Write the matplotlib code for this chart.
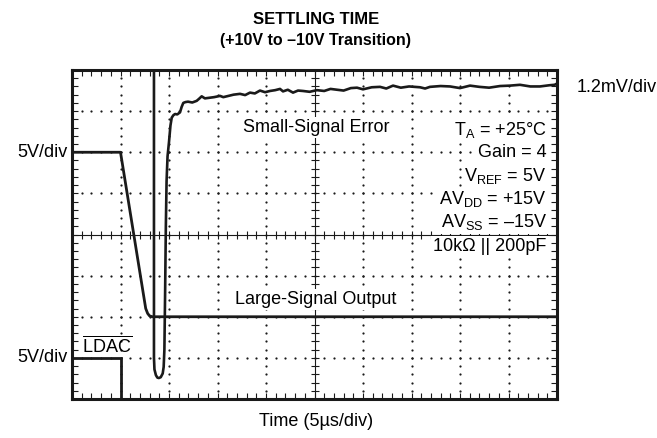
import numpy as np
import matplotlib
matplotlib.use("Agg")
import matplotlib.pyplot as plt
from matplotlib.ticker import MultipleLocator

plt.rcParams['font.family'] = ['Liberation Sans', 'DejaVu Sans']
plt.rcParams['mathtext.fontset'] = 'custom'
plt.rcParams['mathtext.rm'] = 'Liberation Sans'
plt.rcParams['mathtext.it'] = 'Liberation Sans:italic'
plt.rcParams['mathtext.bf'] = 'Liberation Sans:bold'

# scope traces, in divisions (x: 5us/div, y counted up from the bottom graticule)
ldac_x = [0.0, 1.0, 1.0, 10.0]
ldac_y = [1.0, 1.0, 0.0, 0.0]

large_x = [0.0, 1.0, 1.52, 1.56, 1.60, 1.66, 10.0]
large_y = [6.0, 6.0, 2.2, 2.08, 2.02, 2.0, 2.0]

err_x = [1.69, 1.69, 1.70, 1.73, 1.76, 1.79, 1.83, 1.87, 1.89, 1.905, 1.92,
         1.935, 1.95, 1.97, 2.00, 2.03, 2.056, 2.09, 2.124, 2.17, 2.227, 2.26,
         2.295, 2.34, 2.392, 2.48, 2.571, 2.62, 2.674, 2.74, 2.804, 2.93,
         3.052, 3.12, 3.19, 3.33, 3.464, 3.57, 3.67, 3.77, 3.876, 3.98, 4.082,
         4.19, 4.289, 4.351, 4.45, 4.557, 4.66, 4.763, 4.9, 5.05, 5.2, 5.33,
         5.464, 5.6, 5.75, 5.876, 6.0, 6.18, 6.351, 6.48, 6.619, 6.78, 6.95,
         7.175, 7.28, 7.381, 7.6, 7.794, 8.0, 8.206, 8.4, 8.6, 8.825, 9.03,
         9.237, 9.45, 9.649, 9.85, 9.95, 10.0]
err_y = [8.3, 1.0, 0.72, 0.58, 0.52, 0.51, 0.53, 0.62, 0.78, 1.2, 2.6,
         4.2, 5.3, 5.9, 6.25, 6.65, 6.84, 6.90, 6.93, 6.92, 6.97, 7.10,
         7.20, 7.22, 7.23, 7.21, 7.25, 7.30, 7.36, 7.31, 7.32, 7.34,
         7.37, 7.34, 7.36, 7.40, 7.42, 7.39, 7.45, 7.43, 7.50, 7.46, 7.49,
         7.51, 7.54, 7.48, 7.52, 7.45, 7.50, 7.49, 7.47, 7.51, 7.49, 7.54,
         7.52, 7.50, 7.56, 7.57, 7.53, 7.58, 7.59, 7.55, 7.62, 7.57, 7.60,
         7.58, 7.55, 7.59, 7.61, 7.60, 7.56, 7.62, 7.59, 7.57, 7.61, 7.62,
         7.64, 7.60, 7.60, 7.63, 7.64, 7.67]

conditions = [r'T$_\mathrm{A}$ = +25°C', 'Gain = 4', r'V$_\mathrm{REF}$ = 5V',
              r'AV$_\mathrm{DD}$ = +15V', r'AV$_\mathrm{SS}$ = –15V',
              '10kΩ || 200pF']
cond_y = [6.55, 6.0, 5.43, 4.87, 4.3, 3.7]

fig = plt.figure(figsize=(6.57, 4.38), dpi=100)
ax = fig.add_axes([72 / 657, 39 / 438, 485 / 657, 329 / 438])
ax.set_xlim(0, 10)
ax.set_ylim(0, 8)

ink = '#1a1a1a'

# dotted graticule
minor = np.arange(0, 10.001, 0.2)
minor_v = np.arange(0, 8.001, 0.2)
for gx in range(1, 10):
    if gx == 5:
        continue
    ax.plot(np.full_like(minor_v, gx), minor_v, ls='none', marker='o',
            ms=1.6, color=ink, mew=0, zorder=1)
for gy in range(1, 8):
    if gy == 4:
        continue
    ax.plot(minor, np.full_like(minor, gy), ls='none', marker='o',
            ms=1.6, color=ink, mew=0, zorder=1)

# centre crosshair with tick marks
ax.axvline(5, color=ink, lw=0.8, zorder=1)
ax.axhline(4, color=ink, lw=0.8, zorder=1)
ax.plot(minor, np.full_like(minor, 4), ls='none', marker='|', ms=6,
        mew=0.8, color=ink, zorder=1)
ax.plot(np.full_like(minor_v, 5), minor_v, ls='none', marker='_', ms=6,
        mew=0.8, color=ink, zorder=1)

# traces
ax.plot(ldac_x, ldac_y, color=ink, lw=2.0, solid_joinstyle='miter', zorder=4)
ax.plot(large_x, large_y, color=ink, lw=2.0, zorder=4)
ax.plot(err_x, err_y, color=ink, lw=1.9, zorder=4)

# frame ticks
ax.xaxis.set_minor_locator(MultipleLocator(0.2))
ax.yaxis.set_minor_locator(MultipleLocator(0.2))
ax.xaxis.set_major_locator(MultipleLocator(1))
ax.yaxis.set_major_locator(MultipleLocator(1))
ax.tick_params(which='both', direction='in', top=True, right=True,
               labelbottom=False, labelleft=False, color=ink)
ax.tick_params(which='both', length=4, width=0.8)
for sp in ax.spines.values():
    sp.set_linewidth(2.2)
    sp.set_color(ink)
    sp.set_zorder(5)

fs = 13
box = dict(facecolor='white', edgecolor='none', pad=1.5)
# labels inside the graticule
ax.text(5.03, 6.6, 'Small-Signal Error', ha='center', va='center',
        fontsize=fs, bbox=box, zorder=3)
ax.text(5.03, 2.42, 'Large-Signal Output', ha='center', va='center',
        fontsize=fs, bbox=box, zorder=3)
ax.text(0.2, 1.3, r'$\overline{\mathrm{LDAC}}$', ha='left', va='center',
        fontsize=fs, zorder=3)
for s, yy in zip(conditions, cond_y):
    ax.text(9.79, yy, s, ha='right', va='center', fontsize=fs, bbox=box,
            zorder=3)

# scale labels outside the frame
ax.text(-0.1, 6.0, '5V/div', ha='right', va='center', fontsize=fs)
ax.text(-0.1, 1.0, '5V/div', ha='right', va='center', fontsize=fs)
ax.text(10.41, 7.57, '1.2mV/div', ha='left', va='center', fontsize=fs)

fig.text(316 / 657, 1 - 20 / 438, 'SETTLING TIME', ha='center', va='center',
         fontsize=12, fontweight='bold')
fig.text(316 / 657, 1 - 41 / 438, '(+10V to –10V Transition)', ha='center',
         va='center', fontsize=11.5, fontweight='bold')
fig.text(316 / 657, 1 - 421 / 438, 'Time (5µs/div)', ha='center',
         va='center', fontsize=fs)

fig.savefig('out.png', dpi=100)
